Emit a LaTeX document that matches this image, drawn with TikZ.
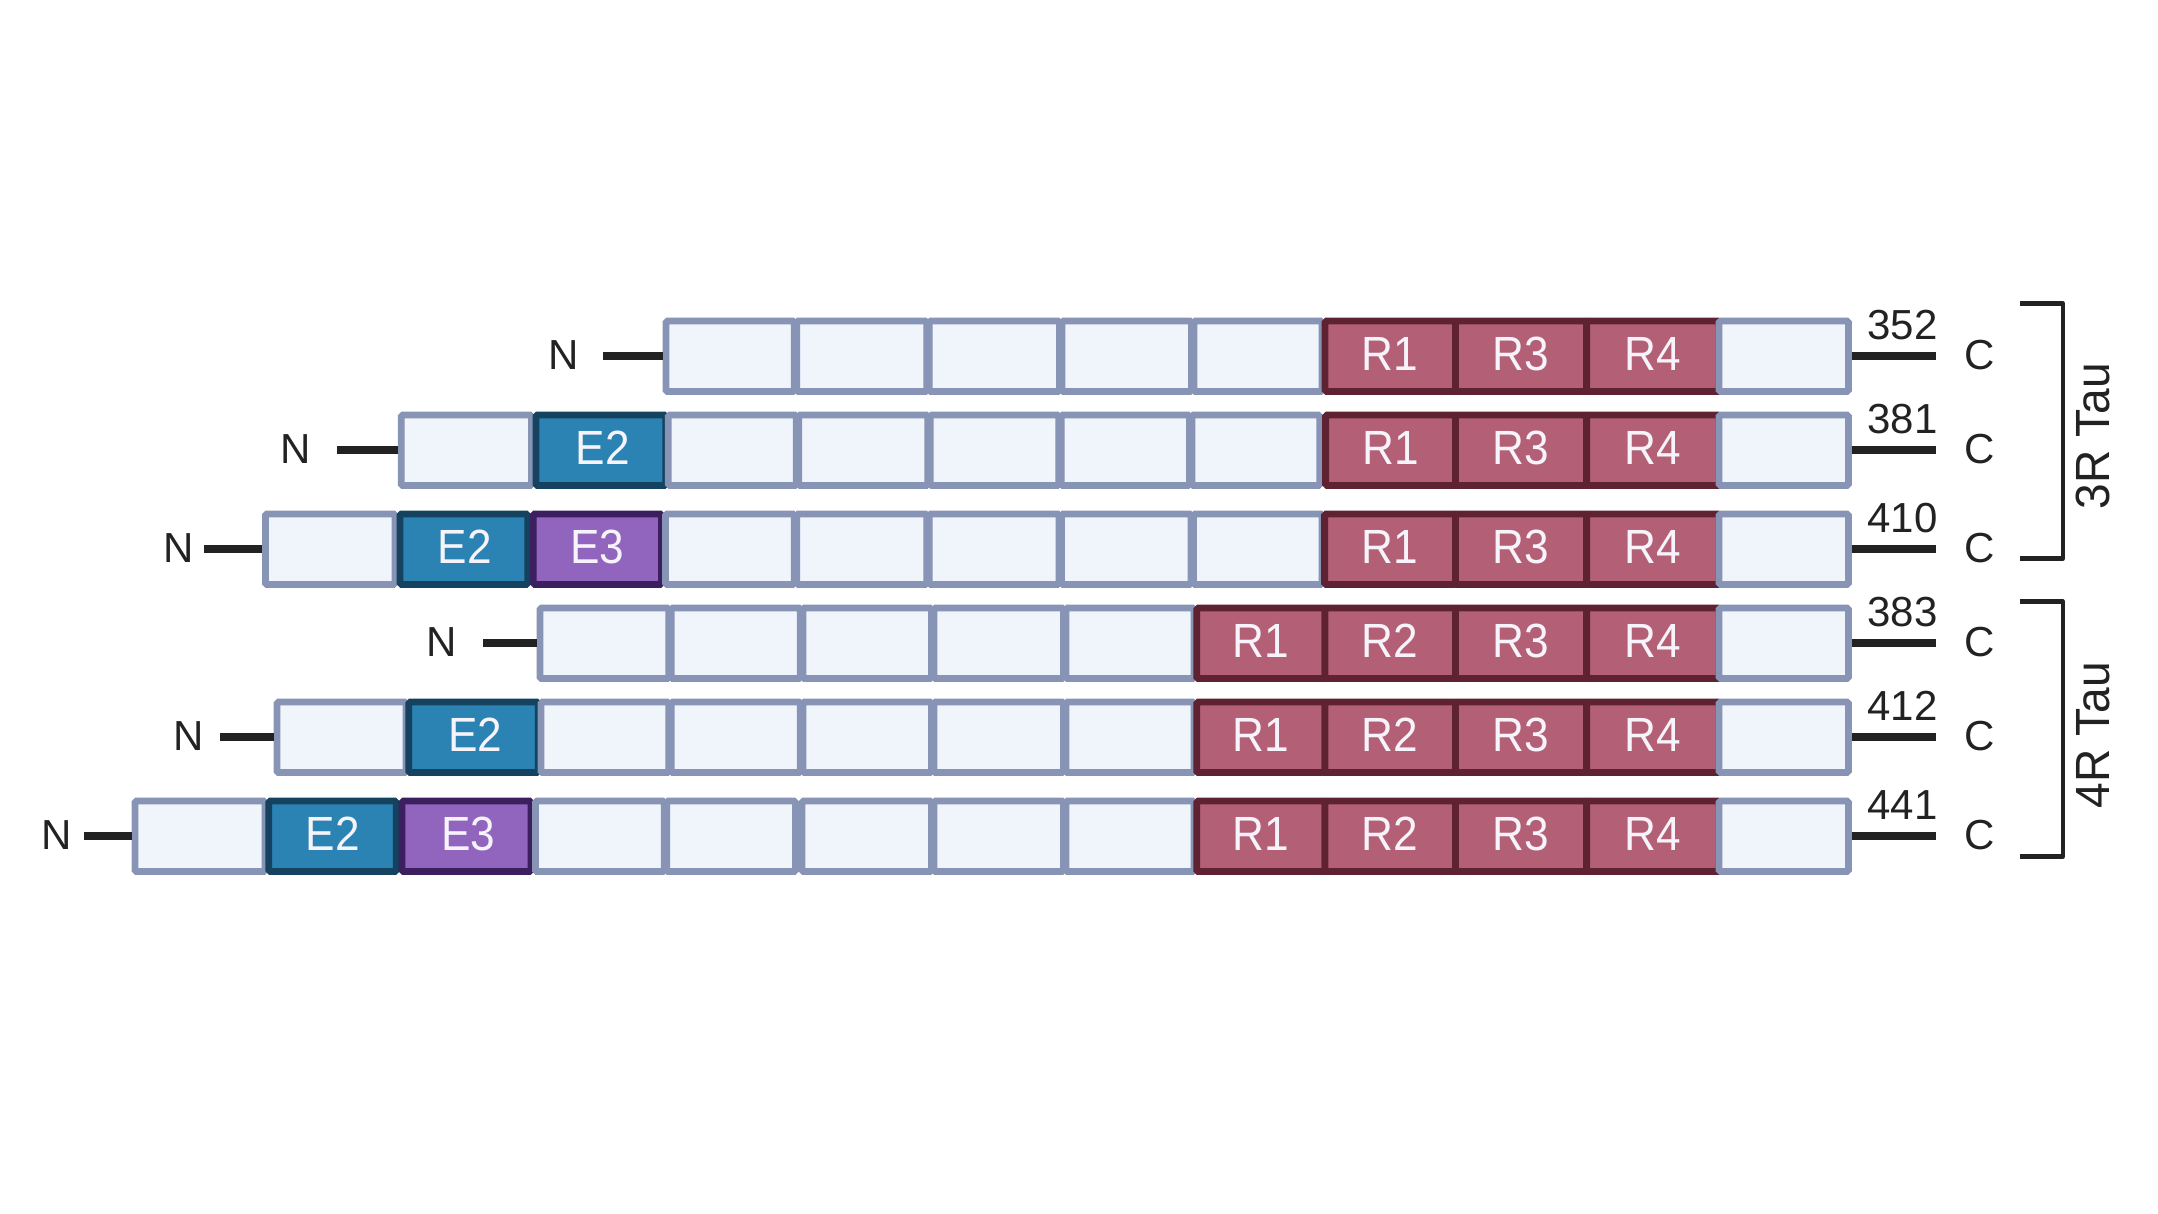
\documentclass[tikz,border=0pt]{standalone}
\usepackage{fontspec}
\setmainfont{Liberation Sans}
\newfontfamily\cellfont[FakeStretch=0.92]{Liberation Sans}
\newfontfamily\grpfont[FakeStretch=0.96]{Liberation Sans}
\definecolor{plainfill}{HTML}{F0F5FC}
\definecolor{plainline}{HTML}{8794B5}
\definecolor{ebfill}{HTML}{2A83B3}
\definecolor{ebline}{HTML}{14425F}
\definecolor{epfill}{HTML}{9164BE}
\definecolor{epline}{HTML}{3C1F5F}
\definecolor{rfill}{HTML}{B36076}
\definecolor{rline}{HTML}{5E2233}
\definecolor{ink}{HTML}{222222}
\definecolor{paper}{HTML}{F6F4FA}
\newcommand{\seg}[6]{\node[#5,minimum width={(#3-#2)*0.5pt}] (#1) at ({(#2+#3)/2},#4) {#6};}
\newcommand{\lab}[1]{\hspace*{#1pt}}
\tikzset{
  segbase/.style={rectangle,draw,line width=3.4pt,rounded corners=0.8pt,inner sep=0pt,
    minimum height=35.25pt,text=paper,font=\cellfont\fontsize{24}{24}\selectfont,
    text height=14.4pt,text depth=0pt,align=center},
  plain/.style={segbase,draw=plainline,fill=plainfill},
  exb/.style={segbase,draw=ebline,fill=ebfill},
  exp/.style={segbase,draw=epline,fill=epfill},
  rep/.style={segbase,draw=rline,fill=rfill},
  stub/.style={draw=ink,line width=4.1pt},
  brk/.style={draw=ink,line width=2.3pt,line join=round},
  tag/.style={text=ink,anchor=base,inner sep=0pt,font=\fontsize{21}{21}\selectfont},
  grp/.style={text=ink,anchor=base,inner sep=0pt,rotate=90,font=\grpfont\fontsize{24}{24}\selectfont},
}
\begin{document}
\begin{tikzpicture}[x=0.5pt,y=-0.5pt]
\useasboundingbox (0,0) rectangle (2158,1214);
\fill[white] (0,0) rectangle (2158,1214);
% Row 1
\seg{a1}{666}{794.25}{356.3}{plain}{}
\seg{a2}{796.75}{926.75}{356.3}{plain}{}
\seg{a3}{929.25}{1059.45}{356.3}{plain}{}
\seg{a4}{1061.95}{1191.45}{356.3}{plain}{}
\seg{a5}{1193.95}{1322}{356.3}{plain}{}
\seg{aR1}{1325}{1455.4}{356.3}{rep}{R1}
\seg{aR3}{1455.4}{1586.6}{356.3}{rep}{R3}
\seg{aR4}{1586.6}{1719}{356.3}{rep}{R4}
\seg{aZ}{1719}{1848.4}{356.3}{plain}{}
% Row 2
\seg{b0}{401.2}{531.5}{450.3}{plain}{}
\seg{bE2}{535.9}{665.7}{450.3}{exb}{\lab{2}E2}
\seg{b1}{668.3}{796.25}{450.3}{plain}{}
\seg{b2}{798.75}{927.75}{450.3}{plain}{}
\seg{b3}{930.25}{1058.75}{450.3}{plain}{}
\seg{b4}{1061.25}{1189.45}{450.3}{plain}{}
\seg{b5}{1191.95}{1319.8}{450.3}{plain}{}
\seg{bR1}{1325.6}{1455.4}{450.3}{rep}{R1}
\seg{bR3}{1455.4}{1586.6}{450.3}{rep}{R3}
\seg{bR4}{1586.6}{1719}{450.3}{rep}{R4}
\seg{bZ}{1719}{1848.4}{450.3}{plain}{}
% Row 3
\seg{c0}{265.4}{395}{549.2}{plain}{}
\seg{cE2}{400}{527.7}{549.2}{exb}{\lab{1}E2}
\seg{cE3}{533.2}{661.5}{549.2}{exp}{E3}
\seg{c1}{665.5}{794.25}{549.2}{plain}{}
\seg{c2}{796.75}{926.75}{549.2}{plain}{}
\seg{c3}{929.25}{1059.05}{549.2}{plain}{}
\seg{c4}{1061.55}{1191.05}{549.2}{plain}{}
\seg{c5}{1193.55}{1322}{549.2}{plain}{}
\seg{cR1}{1324.6}{1455.4}{549.2}{rep}{R1}
\seg{cR3}{1455.4}{1586.6}{549.2}{rep}{R3}
\seg{cR4}{1586.6}{1719}{549.2}{rep}{R4}
\seg{cZ}{1719}{1848.4}{549.2}{plain}{}
% Row 4
\seg{d1}{540}{668.75}{643.3}{plain}{}
\seg{d2}{671.25}{800.35}{643.3}{plain}{}
\seg{d3}{802.85}{931.45}{643.3}{plain}{}
\seg{d4}{933.95}{1063.45}{643.3}{plain}{}
\seg{d5}{1065.95}{1194}{643.3}{plain}{}
\seg{dR1}{1196.7}{1325}{643.3}{rep}{R1}
\seg{dR2}{1325}{1455.4}{643.3}{rep}{R2}
\seg{dR3}{1455.4}{1586.6}{643.3}{rep}{R3}
\seg{dR4}{1586.6}{1719}{643.3}{rep}{R4}
\seg{dZ}{1719}{1848.4}{643.3}{plain}{}
% Row 5
\seg{e0}{277}{406}{737.3}{plain}{}
\seg{eE2}{408.7}{538.2}{737.3}{exb}{\lab{2}E2}
\seg{e1}{541}{668.75}{737.3}{plain}{}
\seg{e2}{671.25}{800.35}{737.3}{plain}{}
\seg{e3}{802.85}{931.45}{737.3}{plain}{}
\seg{e4}{933.95}{1063.45}{737.3}{plain}{}
\seg{e5}{1065.95}{1194}{737.3}{plain}{}
\seg{eR1}{1196.7}{1325}{737.3}{rep}{R1}
\seg{eR2}{1325}{1455.4}{737.3}{rep}{R2}
\seg{eR3}{1455.4}{1586.6}{737.3}{rep}{R3}
\seg{eR4}{1586.6}{1719}{737.3}{rep}{R4}
\seg{eZ}{1719}{1848.4}{737.3}{plain}{}
% Row 6
\seg{f0}{135}{265}{836.3}{plain}{}
\seg{fE2}{268.8}{396.3}{836.3}{exb}{E2}
\seg{fE3}{402}{530.9}{836.3}{exp}{\lab{2}E3}
\seg{f1}{535.4}{664.25}{836.3}{plain}{}
\seg{f2}{666.75}{795.5}{836.3}{plain}{}
\seg{f3}{802}{931.45}{836.3}{plain}{}
\seg{f4}{933.95}{1063.45}{836.3}{plain}{}
\seg{f5}{1065.95}{1194}{836.3}{plain}{}
\seg{fR1}{1196.7}{1325}{836.3}{rep}{R1}
\seg{fR2}{1325}{1455.4}{836.3}{rep}{R2}
\seg{fR3}{1455.4}{1586.6}{836.3}{rep}{R3}
\seg{fR4}{1586.6}{1719}{836.3}{rep}{R4}
\seg{fZ}{1719}{1848.4}{836.3}{plain}{}
% N ends
\coordinate (na) at (602.7,356.3);
\coordinate (nb) at (337,450.3);
\coordinate (nc) at (204,549.2);
\coordinate (nd) at (483,643.3);
\coordinate (ne) at (220,737.3);
\coordinate (nf) at (84.3,836.3);
\draw[stub] (na) -- (a1.west);
\draw[stub] (nb) -- (b0.west);
\draw[stub] (nc) -- (c0.west);
\draw[stub] (nd) -- (d1.west);
\draw[stub] (ne) -- (e0.west);
\draw[stub] (nf) -- (f0.west);
\node[tag] (Na) at (564,369.5) {N};
\node[tag] (Nb) at (295.5,463.5) {N};
\node[tag] (Nc) at (178.7,562.5) {N};
\node[tag] (Nd) at (441.7,656.5) {N};
\node[tag] (Ne) at (188.7,750.5) {N};
\node[tag] (Nf) at (56.4,849.5) {N};
% C ends
\foreach \r/\yy/\num in {a/356.3/352,b/450.3/381,c/549.2/410,d/643.3/383,e/737.3/412,f/836.3/441}{
  \coordinate (z\r) at (1935.7,\yy);
  \draw[stub] (\r Z.east) -- (z\r);
  \node[tag] (num\r) at (1902.5,\yy-17) {\num};
  \node[tag] (C\r) at (1980,\yy+13) {C};
}
% Brackets
\coordinate (t1) at (2020,303.4);
\coordinate (t2) at (2062.8,303.4);
\coordinate (t3) at (2062.8,558.7);
\coordinate (t4) at (2020,558.7);
\draw[brk] (t1) -- (t2) -- (t3) -- (t4);
\coordinate (u1) at (2020,601.7);
\coordinate (u2) at (2062.8,601.7);
\coordinate (u3) at (2062.8,856.7);
\coordinate (u4) at (2020,856.7);
\draw[brk] (u1) -- (u2) -- (u3) -- (u4);
\node[grp] (g3) at (2109,436) {3R Tau};
\node[grp] (g4) at (2109,735) {4R Tau};
\end{tikzpicture}
\end{document}
